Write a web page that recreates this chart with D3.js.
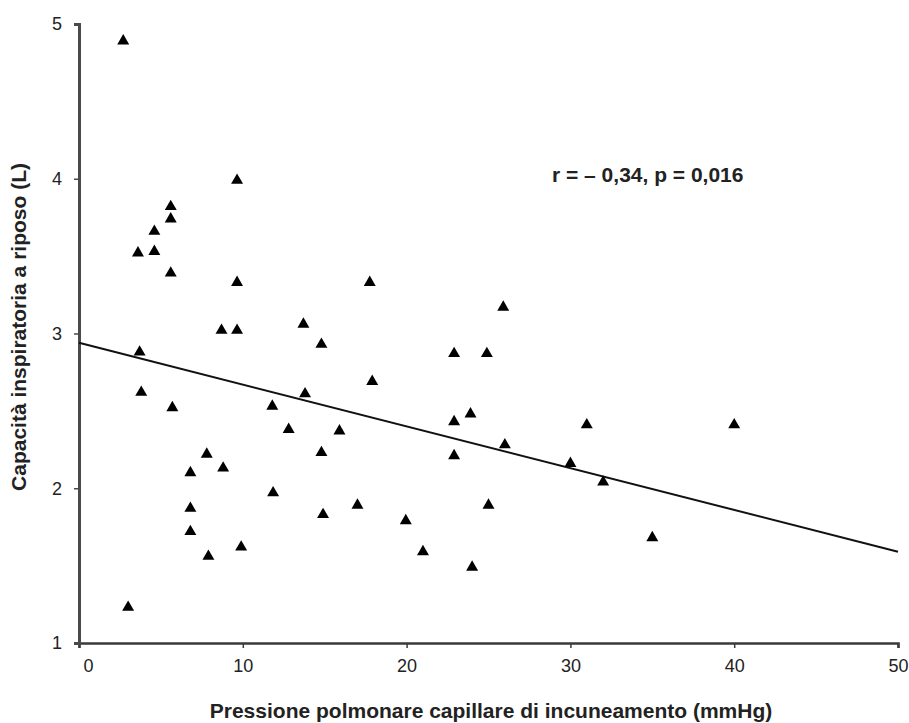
<!DOCTYPE html>
<html>
<head>
<meta charset="utf-8">
<script src="https://cdn.jsdelivr.net/npm/d3@7/dist/d3.min.js"></script>
<style>
  body { margin: 0; background: #fff; }
  text { font-family: "Liberation Sans", Arial, Helvetica, sans-serif; }
</style>
</head>
<body>
<div id="chart"></div>
<script>
// pressione capillare (mmHg) e capacità inspiratoria (L)
var pcwp = [2.7, 9.65, 5.6, 5.6, 4.6, 4.6, 3.6, 5.6, 9.65, 8.7,
            9.65, 3.7, 3.8, 5.7, 11.8, 12.8, 7.8, 6.8, 8.8, 11.85,
            6.8, 6.8, 7.9, 9.9, 3.0, 17.75, 25.9, 13.7, 14.8, 22.9,
            24.9, 17.9, 13.8, 22.9, 23.9, 31.0, 15.9, 14.8, 26.0, 22.9,
            30.0, 32.0, 17.0, 14.9, 25.0, 19.95, 21.0, 24.0, 35.0, 40.0];
var ic = [4.89, 3.99, 3.82, 3.74, 3.66, 3.53, 3.52, 3.39, 3.33, 3.02,
          3.02, 2.88, 2.62, 2.52, 2.53, 2.38, 2.22, 2.10, 2.13, 1.97,
          1.87, 1.72, 1.56, 1.62, 1.23, 3.33, 3.17, 3.06, 2.93, 2.87,
          2.87, 2.69, 2.61, 2.43, 2.48, 2.41, 2.37, 2.23, 2.28, 2.21,
          2.16, 2.04, 1.89, 1.83, 1.89, 1.79, 1.59, 1.49, 1.68, 2.41];
// retta di regressione agli estremi dell'asse x
var fitX = [0, 50];
var fitY = [2.94, 1.59];
var xTicks = [0, 10, 20, 30, 40, 50];
var yTicks = [1, 2, 3, 4, 5];

var W = 909, H = 723;
var margin = {top: 24, right: 11, bottom: 80, left: 79};

var svg = d3.select("#chart").append("svg")
    .attr("width", W)
    .attr("height", H);

var x = d3.scaleLinear().domain([0, 50]).range([margin.left, W - margin.right]);
var y = d3.scaleLinear().domain([1, 5]).range([H - margin.bottom, margin.top]);

// asse x
var gx = svg.append("g")
    .attr("transform", "translate(0," + y(1) + ")")
    .call(d3.axisBottom(x).tickValues(xTicks).tickFormat(d3.format("d"))
        .tickSize(5).tickPadding(11));
gx.select(".domain").attr("stroke", "#3a3a3a").attr("stroke-width", 2.6);
gx.selectAll(".tick line").attr("stroke", "#3a3a3a").attr("stroke-width", 1.5);
gx.selectAll(".tick text")
    .attr("font-size", 18)
    .attr("fill", "#222")
    .attr("dx", function (d) { return d === 0 ? 9 : 0; });

// asse y
var gy = svg.append("g")
    .attr("transform", "translate(" + x(0) + ",0)")
    .call(d3.axisLeft(y).tickValues(yTicks).tickFormat(d3.format("d"))
        .tickSize(5).tickPadding(12));
gy.select(".domain").attr("stroke", "#4a4a4a").attr("stroke-width", 3);
gy.selectAll(".tick line").attr("stroke", "#4a4a4a").attr("stroke-width", 1.5);
gy.selectAll(".tick text")
    .attr("font-size", 18)
    .attr("fill", "#222");

// retta
svg.append("line")
    .attr("x1", x(fitX[0])).attr("y1", y(fitY[0]))
    .attr("x2", x(fitX[1])).attr("y2", y(fitY[1]))
    .attr("stroke", "#111")
    .attr("stroke-width", 2);

// punti (triangoli)
var tri = d3.symbol().type(d3.symbolTriangle).size(62);
svg.append("g").selectAll("path")
    .data(pcwp)
    .enter().append("path")
    .attr("d", tri)
    .attr("transform", function (d, i) {
        return "translate(" + x(d) + "," + y(ic[i]) + ")";
    })
    .attr("fill", "#000");

// annotazione
svg.append("text")
    .attr("x", 552)
    .attr("y", 182)
    .attr("font-size", 21)
    .attr("font-weight", "bold")
    .attr("fill", "#222")
    .text("r = \u2013 0,34, p = 0,016");

// titoli assi
svg.append("text")
    .attr("x", 491)
    .attr("y", 718)
    .attr("text-anchor", "middle")
    .attr("font-size", 21)
    .attr("font-weight", "bold")
    .attr("fill", "#222")
    .text("Pressione polmonare capillare di incuneamento (mmHg)");

svg.append("text")
    .attr("transform", "translate(26,327) rotate(-90)")
    .attr("text-anchor", "middle")
    .attr("font-size", 21)
    .attr("font-weight", "bold")
    .attr("fill", "#222")
    .text("Capacità inspiratoria a riposo (L)");
</script>
</body>
</html>
